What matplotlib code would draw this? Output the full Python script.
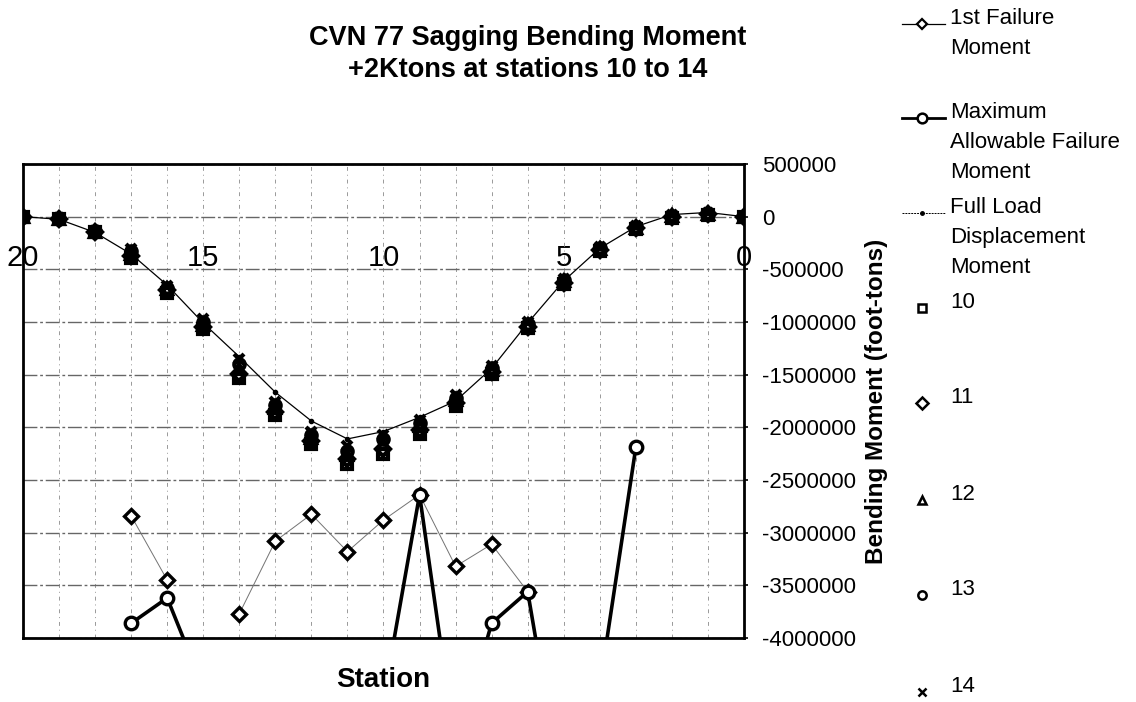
import matplotlib
matplotlib.use("Agg")
import matplotlib.pyplot as plt
import numpy as np
from matplotlib.lines import Line2D
from matplotlib.ticker import FuncFormatter, MultipleLocator

plt.rcParams["font.family"] = ["Liberation Sans", "DejaVu Sans"]

nan = np.nan

# stations run from 20 (left) down to 0 (right)
stations = list(range(20, -1, -1))

full_load = [0, -25000, -150000, -355000, -650000, -1010000, -1330000, -1667000,
             -1940000, -2110000, -2040000, -1905000, -1750000, -1440000, -1010000,
             -610000, -300000, -95000, 20000, 40000, 0]

first_failure = [nan, nan, nan, -2840000, -3450000, nan, -3770000, -3080000,
                 -2825000, -3180000, -2880000, -2640000, -3320000, -3110000,
                 -3560000, nan, nan, nan, nan, nan, nan]

max_allowable = [nan, nan, nan, -3860000, -3620000, -4470000, nan, nan, nan, nan,
                 -4580000, -2640000, -5050000, -3860000, -3560000, -5570000,
                 -4460000, -2190000, nan, nan, nan]

# +2Ktons added at station 10..14
load_10 = [0, -20000, -150000, -390000, -720000, -1070000, -1535000, -1880000,
           -2155000, -2345000, -2250000, -2060000, -1800000, -1490000, -1060000,
           -640000, -330000, -120000, -10000, 20000, 0]
load_11 = [0, -20000, -150000, -370000, -700000, -1050000, -1490000, -1850000,
           -2130000, -2300000, -2210000, -2030000, -1770000, -1470000, -1045000,
           -630000, -320000, -110000, 0, 25000, 0]
load_12 = [0, -20000, -145000, -350000, -690000, -1030000, -1450000, -1820000,
           -2100000, -2260000, -2160000, -1990000, -1745000, -1455000, -1030000,
           -615000, -310000, -105000, 5000, 30000, 0]
load_13 = [0, -20000, -140000, -330000, -675000, -1000000, -1400000, -1790000,
           -2070000, -2220000, -2110000, -1960000, -1720000, -1440000, -1015000,
           -600000, -300000, -95000, 10000, 30000, 0]
load_14 = [0, -15000, -135000, -310000, -660000, -970000, -1355000, -1755000,
           -2040000, -2180000, -2070000, -1930000, -1690000, -1420000, -1000000,
           -590000, -290000, -90000, 15000, 35000, 0]

load_cases = [("10", load_10, "s"), ("11", load_11, "D"), ("12", load_12, "^"),
              ("13", load_13, "o"), ("14", load_14, "x")]

W, H = 1136, 702
fig = plt.figure(figsize=(W / 100, H / 100), dpi=100)
ax = fig.add_axes([23 / W, 1 - 638 / H, (744 - 23) / W, (638 - 164) / H])

# grid
ax.set_xticks(stations)
ax.yaxis.set_major_locator(MultipleLocator(500000))
ax.grid(axis="y", color="0.4", lw=1.0, ls=(0, (10, 2, 2, 2)), zorder=0)
ax.grid(axis="x", color="0.6", lw=0.7, ls=(0, (4, 4, 1, 4)), zorder=0)
ax.set_axisbelow(True)

# series
ax.plot(stations, first_failure, color="0.45", lw=0.7, marker="D", ms=7.5,
        mfc="white", mec="black", mew=2.4, zorder=3)
ax.plot(stations, max_allowable, color="black", lw=2.6, marker="o", ms=9,
        mfc="white", mec="black", mew=2.4, zorder=3)
ax.plot(stations, full_load, color="black", lw=0.9, marker="o", ms=3, zorder=4)
for name, vals, mk in load_cases:
    ax.plot(stations, vals, ls="none", marker=mk, ms=7.5, mfc="none",
            mec="black", mew=3.0, zorder=5)

ax.set_xlim(20, 0)
ax.set_ylim(-4000000, 500000)

for sp in ax.spines.values():
    sp.set_linewidth(2.0)
    sp.set_color("black")

ax.tick_params(axis="x", bottom=False, labelbottom=False)
ax.yaxis.tick_right()
ax.tick_params(axis="y", right=True, left=False, direction="out", length=3,
               width=1.2, pad=10, labelsize=16)
ax.yaxis.set_major_formatter(FuncFormatter(lambda v, p: f"{int(round(v))}"))

# station labels sit on the zero line
sec = ax.secondary_xaxis(0, transform=ax.transData)
sec.set_xticks([20, 15, 10, 5, 0])
sec.tick_params(length=0, pad=20, labelsize=21)
sec.spines["bottom"].set_visible(False)

ax.set_xlabel("Station", fontsize=20, fontweight="bold", labelpad=21)
ax.set_ylabel("Bending Moment (foot-tons)", fontsize=17.5, fontweight="bold",
              rotation=90)
ax.yaxis.set_label_position("right")
ax.yaxis.label.set_verticalalignment("center")
ax.yaxis.set_label_coords((877 - 23) / (744 - 23), 0.5)

fig.text(528 / W, 1 - 25 / H, "CVN 77 Sagging Bending Moment\n+2Ktons at stations 10 to 14",
         ha="center", va="top", fontsize=19.5, fontweight="bold", linespacing=1.3)

# legend, laid out the way the spreadsheet does it
legend_items = [
    ("1st Failure\nMoment",
     dict(color="black", lw=0.9, marker="D", ms=5, mfc="white", mew=1.6), True, 24),
    ("Maximum\nAllowable Failure\nMoment",
     dict(color="black", lw=2.0, marker="o", ms=7, mfc="white", mew=1.8), True, 118),
    ("Full Load\nDisplacement\nMoment",
     dict(color="black", lw=0.7, ls=(0, (2, 1)), marker="o", ms=2.5), True, 213),
]
for name, vals, mk in load_cases:
    y = {"10": 308, "11": 403, "12": 500, "13": 595, "14": 692}[name]
    legend_items.append((name, dict(color="black", ls="none", marker=mk, ms=6,
                                    mfc="none", mew=1.8), False, y))

for label, style, has_line, ypx in legend_items:
    yf = 1 - ypx / H
    if has_line:
        fig.add_artist(Line2D([902 / W, 945 / W], [yf, yf], transform=fig.transFigure,
                              **{k: v for k, v in style.items() if k not in ("marker", "ms", "mfc", "mew")}))
        fig.add_artist(Line2D([921.7 / W], [yf], transform=fig.transFigure, ls="none",
                              marker=style["marker"], ms=style["ms"],
                              mfc=style.get("mfc", "black"), mec="black",
                              mew=style.get("mew", 1.0)))
    else:
        fig.add_artist(Line2D([921.7 / W], [yf], transform=fig.transFigure, **style))
    fig.text(950 / W, 1 - (ypx - 16) / H, label, ha="left", va="top",
             fontsize=16, linespacing=1.56)

fig.savefig("out.png", dpi=100)
